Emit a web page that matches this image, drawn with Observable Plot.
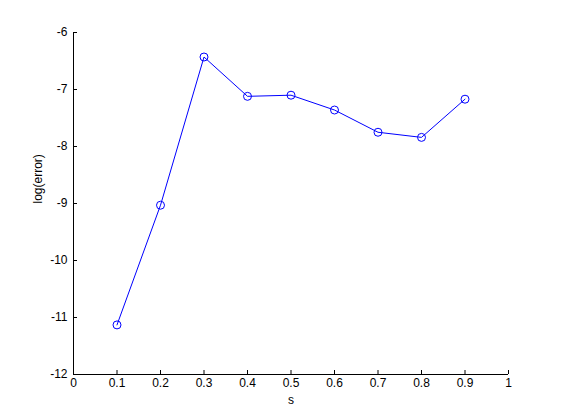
<!DOCTYPE html>
<html>
<head>
<meta charset="utf-8">
<script src="https://cdn.jsdelivr.net/npm/d3@7"></script>
<script src="https://cdn.jsdelivr.net/npm/@observablehq/plot@0.6"></script>
<style>
  html, body { margin: 0; padding: 0; background: #fff; }
  #chart svg { display: block; }
</style>
</head>
<body>
<div id="chart"></div>
<script>
const sValues = [0.1, 0.2, 0.3, 0.4, 0.5, 0.6, 0.7, 0.8, 0.9];
const logError = [-11.13, -9.03, -6.43, -7.12, -7.10, -7.36, -7.75, -7.84, -7.17];
const xTicks = [0, 0.1, 0.2, 0.3, 0.4, 0.5, 0.6, 0.7, 0.8, 0.9, 1];
const yTicks = [-12, -11, -10, -9, -8, -7, -6];

const data = sValues.map((s, i) => ({s, e: logError[i]}));

const chart = Plot.plot({
  width: 561,
  height: 420,
  marginLeft: 73,
  marginRight: 53,
  marginTop: 32,
  marginBottom: 46,
  style: {fontFamily: "'Liberation Sans', Arial, sans-serif", fontSize: "12px", color: "black", background: "white"},
  x: {domain: [0, 1]},
  y: {domain: [-12, -6]},
  marks: [
    Plot.axisX({ticks: xTicks, tickFormat: d => String(d), tickSize: -4, tickPadding: 8, label: null, stroke: "black"}),
    Plot.axisY({ticks: yTicks, tickFormat: d => String(d).replace("−", "-"), tickSize: -4, tickPadding: 10, label: null, stroke: "black"}),
    Plot.ruleX([0], {stroke: "black"}),
    Plot.ruleY([-12], {stroke: "black"}),
    Plot.line(data, {x: "s", y: "e", stroke: "#0000ff", strokeWidth: 1}),
    Plot.dot(data, {x: "s", y: "e", r: 4, stroke: "#0000ff", fill: "none", strokeWidth: 1}),
    Plot.text(["s"], {frameAnchor: "bottom", dy: 29, text: d => d, fontSize: 12}),
    Plot.text(["log(error)"], {frameAnchor: "left", dx: -35, rotate: -90, text: d => d, fontSize: 12})
  ]
});
document.getElementById("chart").appendChild(chart);
</script>
</body>
</html>
